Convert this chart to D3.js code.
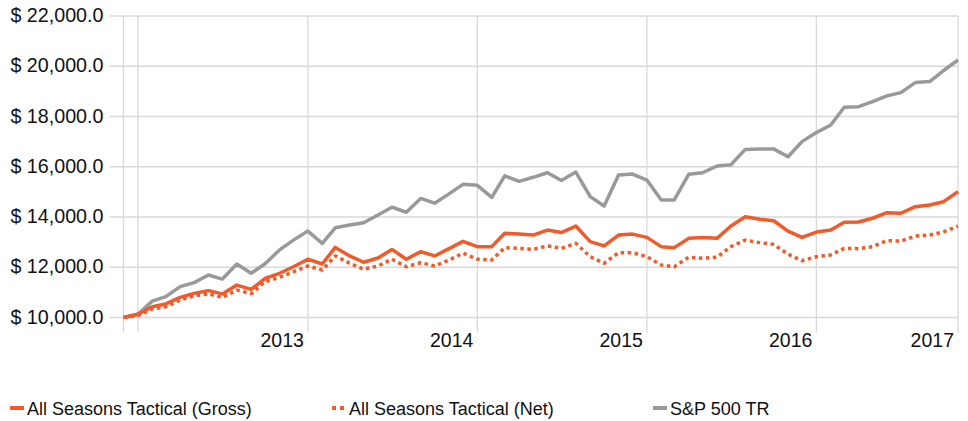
<!DOCTYPE html>
<html>
<head>
<meta charset="utf-8">
<script src="https://cdnjs.cloudflare.com/ajax/libs/d3/7.8.5/d3.min.js"></script>
<style>
  html, body { margin: 0; padding: 0; background: #fff; }
  svg { display: block; }
</style>
</head>
<body>
<svg id="chart"></svg>
<script>
// monthly growth of $10,000
const months = [
    "2011-12",
    "2012-01","2012-02","2012-03","2012-04","2012-05","2012-06","2012-07","2012-08","2012-09","2012-10","2012-11","2012-12",
    "2013-01","2013-02","2013-03","2013-04","2013-05","2013-06","2013-07","2013-08","2013-09","2013-10","2013-11","2013-12",
    "2014-01","2014-02","2014-03","2014-04","2014-05","2014-06","2014-07","2014-08","2014-09","2014-10","2014-11","2014-12",
    "2015-01","2015-02","2015-03","2015-04","2015-05","2015-06","2015-07","2015-08","2015-09","2015-10","2015-11","2015-12",
    "2016-01","2016-02","2016-03","2016-04","2016-05","2016-06","2016-07","2016-08","2016-09","2016-10","2016-11"
];

const gross = [
    10000,
    10130, 10430, 10540, 10800, 10960, 11070, 10940, 11290, 11120, 11560, 11760, 12020,
    12320, 12130, 12790, 12450, 12200, 12370, 12710, 12320, 12620, 12450, 12740, 13030,
    12820, 12820, 13350, 13320, 13280, 13480, 13380, 13640, 13020, 12850, 13280, 13320,
    13190, 12820, 12780, 13150, 13180, 13150, 13640, 14010, 13910, 13850, 13440, 13190,
    13400, 13480, 13790, 13800, 13950, 14170, 14150, 14410, 14480, 14610, 15010
];

const net = [
    10000,
    10080, 10340, 10430, 10700, 10860, 10940, 10800, 11090, 10950, 11430, 11600, 11820,
    12050, 11890, 12450, 12160, 11920, 12050, 12320, 12020, 12180, 12050, 12290, 12560,
    12320, 12290, 12780, 12750, 12710, 12850, 12750, 12950, 12420, 12160, 12580, 12580,
    12420, 12090, 12020, 12400, 12360, 12400, 12820, 13080, 12980, 12910, 12520, 12260,
    12420, 12490, 12750, 12740, 12820, 13060, 13040, 13240, 13280, 13410, 13640
];

const sp500 = [
    10000,
    10130, 10650, 10830, 11230, 11390, 11690, 11530, 12130, 11760, 12140, 12690, 13080,
    13440, 12950, 13570, 13680, 13770, 14080, 14390, 14190, 14740, 14550, 14920, 15300,
    15260, 14780, 15640, 15420, 15580, 15760, 15450, 15790, 14810, 14440, 15670, 15710,
    15470, 14680, 14680, 15700, 15760, 16030, 16080, 16690, 16710, 16710, 16400, 17000,
    17360, 17660, 18370, 18390, 18590, 18820, 18950, 19350, 19390, 19830, 20250
];

const seriesNames = ["All Seasons Tactical (Gross)", "All Seasons Tactical (Net)", "S&P 500 TR"];
const yTicks = [10000, 12000, 14000, 16000, 18000, 20000, 22000];
const gridMonths = ["2012-01", "2013-01", "2014-01", "2015-01", "2016-01"];
const xTickLabels = ["2013", "2014", "2015", "2016", "2017"];

const W = 968, H = 421;
const margin = { top: 16, right: 10, bottom: 103.5, left: 123.5 };
const font = "'Liberation Sans', Arial, Helvetica, sans-serif";
const orange = "#f15a29", grey = "#999999", gridColor = "#d9d9d9";

const parse = d3.timeParse("%Y-%m");
const dates = months.map(parse);

const series = [
    { name: seriesNames[0], values: gross, color: orange, dash: null },
    { name: seriesNames[1], values: net,   color: orange, dash: "3.5,3.5" },
    { name: seriesNames[2], values: sp500, color: grey,   dash: null }
];

const svg = d3.select("#chart").attr("width", W).attr("height", H);

const x = d3.scaleTime()
    .domain(d3.extent(dates))
    .range([margin.left, W - margin.right]);

const y = d3.scaleLinear()
    .domain([10000, 22000])
    .range([H - margin.bottom, margin.top]);

const fmt = d => "$ " + d3.format(",.1f")(d);

// horizontal grid + y labels
const yg = svg.append("g");
yg.selectAll("line")
    .data(yTicks)
    .join("line")
    .attr("x1", margin.left - 14).attr("x2", W - margin.right)
    .attr("y1", d => y(d)).attr("y2", d => y(d))
    .attr("stroke", gridColor).attr("stroke-width", 1.3);
yg.selectAll("text")
    .data(yTicks)
    .join("text")
    .attr("x", margin.left - 20)
    .attr("y", d => y(d) + 6)
    .attr("text-anchor", "end")
    .attr("font-family", font)
    .attr("font-size", 19.7)
    .attr("fill", "#111")
    .text(fmt);

// vertical grid: plot edges and year starts, extending below the axis
const vLines = [x.domain()[0], ...gridMonths.map(parse), x.domain()[1]];
svg.append("g")
    .selectAll("line")
    .data(vLines)
    .join("line")
    .attr("x1", d => x(d)).attr("x2", d => x(d))
    .attr("y1", margin.top).attr("y2", H - margin.bottom + 15)
    .attr("stroke", gridColor).attr("stroke-width", 1.3);

// year labels sit just left of their line; the last one at the right edge
const labelPos = [...gridMonths.slice(1).map(parse), x.domain()[1]];
svg.append("g")
    .selectAll("text")
    .data(xTickLabels)
    .join("text")
    .attr("x", (d, i) => x(labelPos[i]) - 4)
    .attr("y", H - margin.bottom + 29.5)
    .attr("text-anchor", "end")
    .attr("font-family", font)
    .attr("font-size", 19.5)
    .attr("fill", "#111")
    .text(d => d);

// lines (grey underneath)
const line = d3.line()
    .x((d, i) => x(dates[i]))
    .y(d => y(d));

svg.append("g")
    .attr("fill", "none")
    .attr("stroke-width", 3.5)
    .attr("stroke-linejoin", "round")
    .selectAll("path")
    .data(series.slice().reverse())
    .join("path")
    .attr("stroke", d => d.color)
    .attr("stroke-dasharray", d => d.dash)
    .attr("d", d => line(d.values));

// legend
const legendX = [10, 332, 653];
const lg = svg.append("g")
    .selectAll("g")
    .data(series)
    .join("g")
    .attr("transform", (d, i) => `translate(${legendX[i]},408)`);
lg.append("line")
    .attr("x1", 0).attr("x2", 14)
    .attr("stroke", d => d.color)
    .attr("stroke-width", 4)
    .attr("stroke-dasharray", d => d.dash ? "4,4" : null);
lg.append("text")
    .attr("x", 17)
    .attr("y", 7)
    .attr("font-family", font)
    .attr("font-size", 18)
    .attr("fill", "#111")
    .text(d => d.name);
</script>
</body>
</html>
